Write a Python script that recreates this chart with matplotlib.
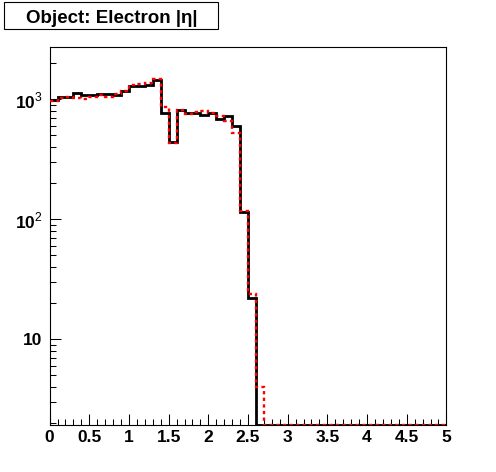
import numpy as np
import matplotlib
matplotlib.use('Agg')
import matplotlib.pyplot as plt
from matplotlib.patches import Rectangle
from matplotlib.ticker import MultipleLocator, LogLocator, NullFormatter, FuncFormatter

plt.rcParams['font.family'] = ['Liberation Sans', 'DejaVu Sans']
plt.rcParams['mathtext.fontset'] = 'custom'
plt.rcParams['mathtext.rm'] = 'Liberation Sans'
plt.rcParams['mathtext.bf'] = 'Liberation Sans:bold'

# |eta| histogram, 50 bins of 0.1 from 0 to 5
bin_edges = np.round(np.linspace(0, 5, 51), 2)
black_counts = [990, 1045, 1045, 1120, 1080, 1080, 1100, 1100, 1080, 1170,
                1285, 1285, 1315, 1460, 770, 440, 810, 765, 765, 740,
                770, 680, 730, 600, 116, 22] + [0] * 24
red_counts = [960, 1030, 1050, 1035, 1012, 1050, 1085, 1040, 1100, 1180,
              1310, 1340, 1375, 1468, 860, 435, 815, 760, 790, 800,
              775, 730, 660, 528, 118, 24, 4.0] + [0] * 23
title = 'Object: Electron |\u03b7|'

ymin, ymax = 1.94, 2718

fig = plt.figure(figsize=(4.96, 4.72), dpi=100)
ax = fig.add_axes([0.1, 0.1, 0.8, 0.8])

# empty bins sit on the bottom of the frame, like ROOT does on log scale
ax.stairs(np.maximum(black_counts, ymin), bin_edges, baseline=None,
          color='black', linewidth=2.0, zorder=2)
ax.stairs(np.maximum(red_counts, ymin), bin_edges, baseline=None,
          color='red', linewidth=1.7, linestyle=(0, (1.4, 1.4)), zorder=3)

ax.set_yscale('log')
ax.set_xlim(0, 5)
ax.set_ylim(ymin, ymax)

ax.xaxis.set_major_locator(MultipleLocator(0.5))
ax.xaxis.set_minor_locator(MultipleLocator(0.1))
ax.xaxis.set_major_formatter(FuncFormatter(lambda v, p: '%g' % v))

ax.set_yticks([10, 100, 1000])
ax.set_yticklabels(['10', r'$\mathbf{10}^{\mathrm{2}}$', r'$\mathbf{10}^{\mathrm{3}}$'])
ax.yaxis.set_minor_locator(LogLocator(base=10, subs=np.arange(2, 10)))
ax.yaxis.set_minor_formatter(NullFormatter())

for lab in ax.get_xticklabels() + ax.get_yticklabels():
    lab.set_fontweight('bold')
    lab.set_fontsize(12.5)

ax.tick_params(which='both', direction='in', top=False, right=False, width=0.75)
ax.tick_params(which='major', length=8)
ax.tick_params(which='minor', length=4)
ax.tick_params(axis='x', pad=4)
ax.tick_params(axis='y', pad=5)
for sp in ax.spines.values():
    sp.set_linewidth(0.8)

# title box in the top left corner
fig.patches.append(Rectangle((4 / 496, 1 - 29 / 472), 214 / 496, 27 / 472,
                             transform=fig.transFigure, facecolor='white',
                             edgecolor='black', linewidth=0.8))
fig.text(112 / 496, 1 - 23.3 / 472, title, ha='center', va='baseline',
         fontsize=13.5, fontweight='bold')

fig.savefig('out.png', dpi=100)
